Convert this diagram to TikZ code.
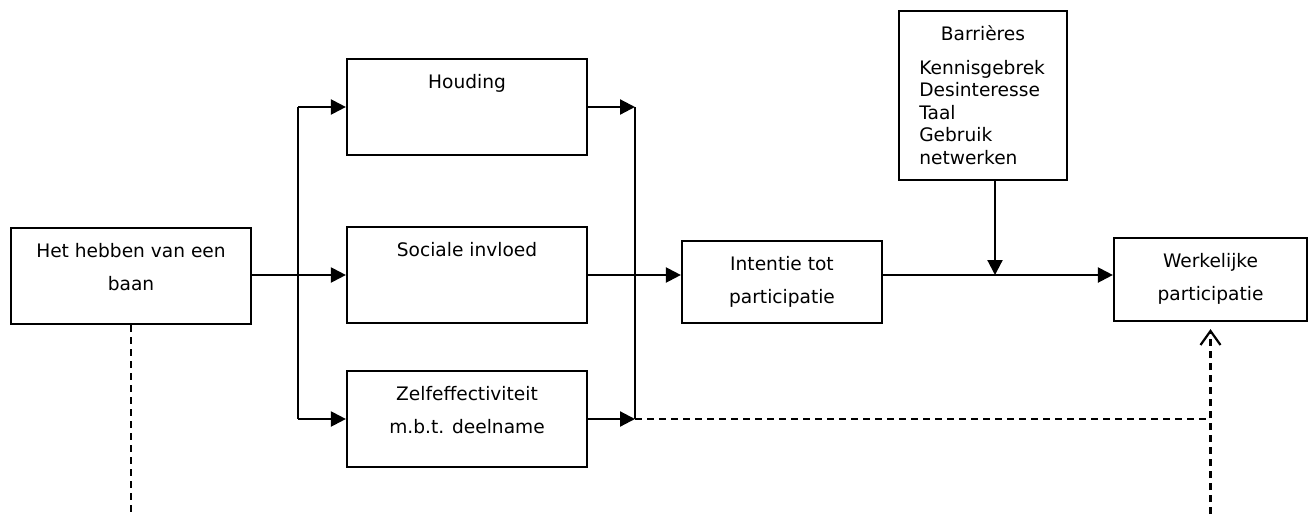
\documentclass[tikz,border=0pt]{standalone}
\usepackage{fontspec}
\setmainfont{DejaVu Sans}
\usetikzlibrary{arrows.meta}

\begin{document}
\begin{tikzpicture}[x=0.5pt,y=-0.5pt,
  blok/.style={draw,line width=1.1pt,inner sep=0pt,minimum width=120pt,minimum height=48pt},
  tekst/.style={anchor=north,align=center,inner sep=0pt,font=\fontsize{9.3}{16.5}\selectfont,yshift=-8pt},
  lijst/.style={anchor=north west,align=left,inner sep=0pt,font=\fontsize{9.3}{11.2}\selectfont,xshift=10.5pt,yshift=-25pt},
  lijn/.style={line width=1.1pt},
  pijl/.style={line width=1.1pt,-{Triangle[length=7.5pt,width=7.5pt]}},
  stippel/.style={line width=1.1pt,dash pattern=on 3.5pt off 2.5pt}]

\useasboundingbox (0,0) rectangle (1311,514);

\node[blok,label={[tekst]north:{Het hebben van een\\baan}}] (baan) at (131,276) {};
\node[blok,label={[tekst]north:Houding}] (houding) at (467,107) {};
\node[blok,label={[tekst]north:Sociale invloed}] (sociaal) at (467,275) {};
\node[blok,label={[tekst]north:{Zelfeffectiviteit\\m.b.t. deelname}}] (zelf) at (467,419) {};
\node[blok,minimum width=100pt,minimum height=41pt,label={[tekst]north:{Intentie tot\\participatie}}] (intentie) at (782,282) {};
\node[blok,minimum width=96.5pt,minimum height=41.5pt,label={[tekst]north:{Werkelijke\\participatie}}] (werkelijk) at (1210.5,279.5) {};
\node[blok,minimum width=84pt,minimum height=84.5pt,
  label={[tekst,yshift=0.5pt]north:Barrières},
  label={[lijst]north west:{Kennisgebrek\\Desinteresse\\Taal\\Gebruik\\netwerken}}] (barriere) at (983,95.5) {};

\coordinate (links) at (298,0);
\coordinate (rechts) at (635,0);
\coordinate (onder) at (0,514);
\coordinate (inslag) at (995,0);

\draw[pijl] (baan.east |- sociaal.west) -- (sociaal.west);
\draw[lijn] (links |- houding.west) -- (links |- zelf.west);
\draw[pijl] (links |- houding.west) -- (houding.west);
\draw[pijl] (links |- zelf.west) -- (zelf.west);

\draw[pijl] (houding.east) -- (rechts |- houding.east);
\draw[lijn] (rechts |- houding.east) -- (rechts |- zelf.east);
\draw[pijl] (zelf.east) -- (rechts |- zelf.east);
\draw[pijl] (sociaal.east) -- (sociaal.east -| intentie.west);

\draw[pijl] (sociaal.east -| intentie.east) -- (sociaal.east -| werkelijk.west);
\draw[pijl] (inslag |- barriere.south) -- (inslag |- sociaal.east);

\draw[stippel] (rechts |- zelf.east) -- (werkelijk.south |- zelf.east);
\draw[stippel,-{Straight Barb[length=7pt,width=10pt]}] (werkelijk.south |- onder) -- ([yshift=-3.5pt]werkelijk.south);
\draw[stippel] (baan.south) -- (baan.south |- onder);
\end{tikzpicture}
\end{document}
